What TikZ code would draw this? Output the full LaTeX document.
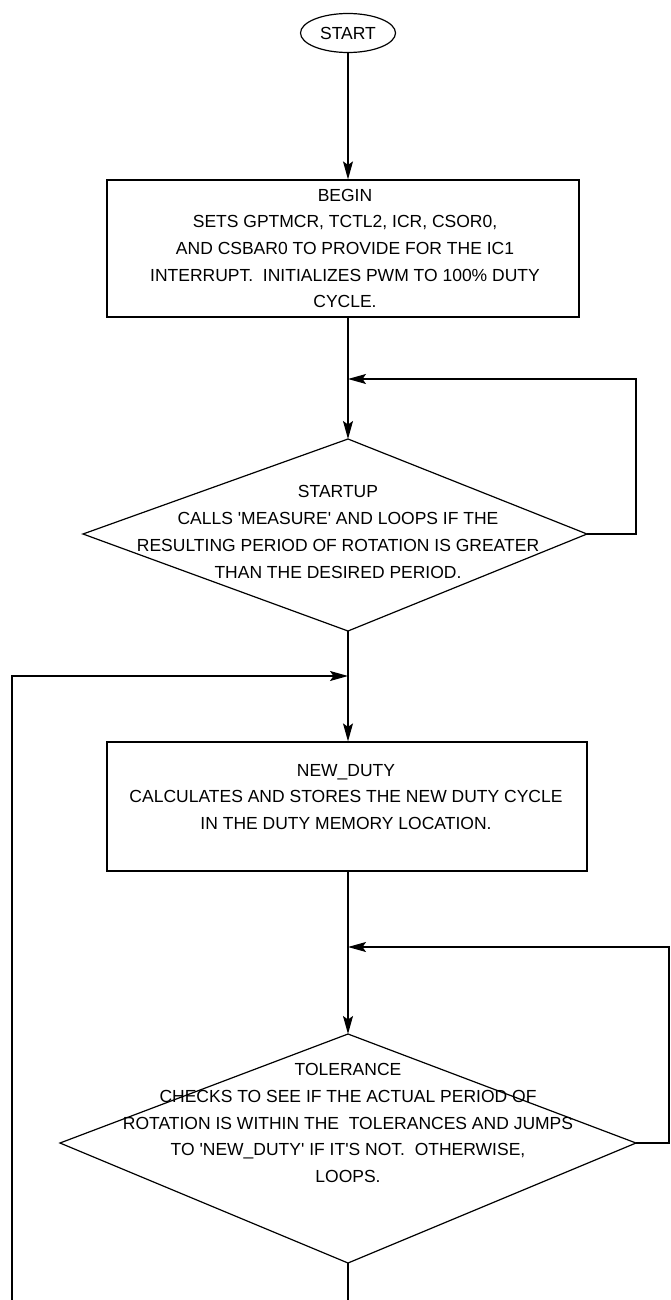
\documentclass[tikz,border=0pt]{standalone}
\usepackage{fontspec}
\setmainfont{Liberation Sans}
\usetikzlibrary{arrows.meta,shapes.geometric}
\tikzset{
  linea/.style={line width=1.2pt,black},
  flecha/.style={linea,-{Stealth[length=18pt,width=10pt,inset=3.5pt]}},
  texto/.style={align=center,inner sep=0pt,font=\fontsize{17.5}{26.7}\selectfont},
  caja/.style={draw,line width=1.2pt,minimum width=472pt,minimum height=137pt,inner sep=0pt},
  inicio/.style={draw,line width=1.2pt,ellipse,minimum width=95pt,minimum height=39pt,inner sep=0pt,font=\fontsize{17.5}{20}\selectfont}
}
\begin{document}
\begin{tikzpicture}[x=1pt,y=-1pt]
\path[use as bounding box,fill=white] (0,0) rectangle (671,1300);
% bloques
\node[inicio] (start) at (348,33) {START};
\node[caja] (begin) at (343,248.5) {};
\node[texto] (begin-t) at (345,248.5) {BEGIN\\SETS GPTMCR, TCTL2, ICR, CSOR0,\\AND CSBAR0 TO PROVIDE FOR THE IC1\\INTERRUPT.\ \ INITIALIZES PWM TO 100\% DUTY\\CYCLE.};
\coordinate (su-n) at (348,439); \coordinate (su-w) at (83,534);
\coordinate (su-e) at (587,534); \coordinate (su-s) at (348,631);
\draw[linea] (su-n)--(su-e)--(su-s)--(su-w)--cycle;
\node[texto] (su) at (338,532) {STARTUP\\CALLS \textquotesingle MEASURE\textquotesingle{} AND LOOPS IF THE\\RESULTING PERIOD OF ROTATION IS GREATER\\THAN THE DESIRED PERIOD.};
\node[caja,minimum width=480pt,minimum height=129pt] (nd) at (347,806.5) {};
\node[texto] (nd-t) at (346,797) {NEW\_DUTY\\CALCULATES AND STORES THE NEW DUTY CYCLE\\IN THE DUTY MEMORY LOCATION.};
\coordinate (tol-n) at (348,1034); \coordinate (tol-w) at (60,1143);
\coordinate (tol-e) at (636,1143); \coordinate (tol-s) at (348,1263);
\draw[linea] (tol-n)--(tol-e)--(tol-s)--(tol-w)--cycle;
\node[texto] (tol) at (348,1123) {TOLERANCE\\CHECKS TO SEE IF THE ACTUAL PERIOD OF\\ROTATION IS WITHIN THE\ \ TOLERANCES AND JUMPS\\TO \textquotesingle NEW\_DUTY\textquotesingle{} IF IT\textquotesingle S NOT.\ \ OTHERWISE,\\LOOPS.};
% uniones
\coordinate (m1) at (348,379); \coordinate (m2) at (348,676); \coordinate (m3) at (348,947);
\coordinate (fin-l) at (12,1300); \coordinate (fin-c) at (348,1300);
\draw[flecha] (start) -- (start |- begin.north);
\draw[flecha] (begin.south -| su-n) -- (su-n);
\draw[flecha] (su-e) -- ++(49,0) |- (m1);
\draw[flecha] (su-s) -- (nd.north -| su-s);
\draw[flecha] (fin-l) |- (m2);
\draw[flecha] (nd.south -| su-s) -- (tol-n);
\draw[flecha] (tol-e) -- ++(33,0) |- (m3);
\draw[linea] (tol-s) -- (fin-c);
\end{tikzpicture}
\end{document}
